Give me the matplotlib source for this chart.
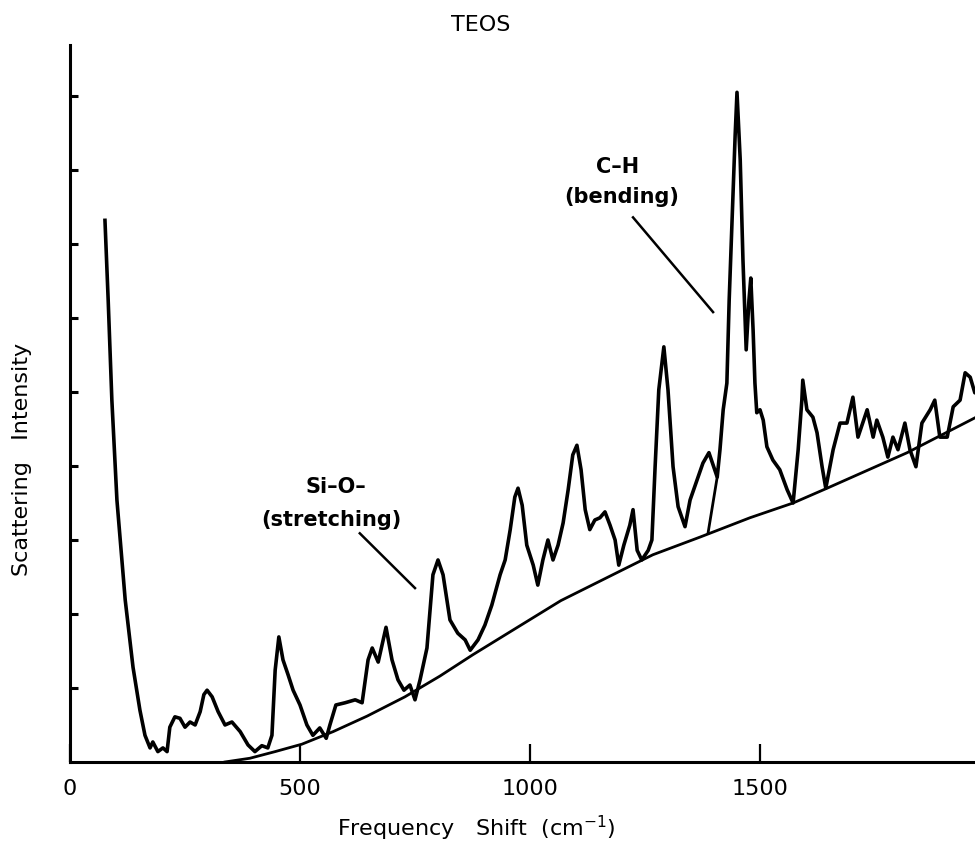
import matplotlib
matplotlib.use("Agg")
from matplotlib import pyplot as plt

# Raman spectrum of TEOS (x: cm-1, y: arbitrary units)
shift = [76, 83, 91, 102, 120, 137, 152, 163, 174, 180, 191, 202, 211, 217, 228,
         239, 250, 261, 272, 283, 291, 298, 309, 322, 337, 352, 370, 387, 402, 417,
         430, 439, 446, 454, 463, 474, 485, 500, 515, 528, 543, 557, 565, 578, 598,
         620, 635, 648, 657, 670, 687, 700, 713, 726, 739, 750, 761, 776, 789, 800,
         811, 826, 843, 859, 870, 887, 902, 917, 935, 946, 957, 967, 974, 983, 993,
         1007, 1017, 1028, 1039, 1050, 1061, 1072, 1083, 1093, 1102, 1111, 1120, 1130, 1141, 1152,
         1163, 1174, 1185, 1193, 1204, 1217, 1224, 1233, 1243, 1257, 1265, 1272, 1280, 1291, 1300,
         1311, 1322, 1337, 1348, 1363, 1376, 1389, 1407, 1413, 1420, 1428, 1433, 1437, 1441, 1446,
         1450, 1457, 1463, 1470, 1476, 1480, 1485, 1489, 1493, 1500, 1507, 1515, 1528, 1543, 1559,
         1572, 1583, 1591, 1593, 1602, 1615, 1624, 1635, 1643, 1659, 1674, 1689, 1702, 1713, 1733,
         1746, 1754, 1767, 1778, 1789, 1800, 1815, 1826, 1839, 1852, 1870, 1880, 1891, 1907, 1920,
         1935, 1946, 1957, 1967, 1989]
intensity = [7.32, 6.24, 4.89, 3.54, 2.19, 1.28, 0.70, 0.36, 0.19, 0.27, 0.14, 0.19, 0.14, 0.47, 0.61,
             0.59, 0.47, 0.54, 0.50, 0.68, 0.91, 0.97, 0.88, 0.68, 0.50, 0.54, 0.41, 0.23, 0.14, 0.22,
             0.19, 0.36, 1.24, 1.69, 1.38, 1.18, 0.97, 0.77, 0.50, 0.36, 0.46, 0.32, 0.50, 0.77, 0.80,
             0.84, 0.80, 1.38, 1.54, 1.35, 1.82, 1.38, 1.11, 0.97, 1.04, 0.84, 1.11, 1.54, 2.53, 2.73,
             2.53, 1.92, 1.74, 1.65, 1.51, 1.65, 1.85, 2.12, 2.53, 2.73, 3.14, 3.58, 3.70, 3.47, 2.93,
             2.66, 2.39, 2.73, 3.00, 2.73, 2.93, 3.23, 3.68, 4.15, 4.28, 3.95, 3.41, 3.14, 3.27, 3.30,
             3.38, 3.20, 3.00, 2.66, 2.93, 3.20, 3.41, 2.86, 2.73, 2.86, 3.00, 3.99, 5.03, 5.61, 5.03,
             3.99, 3.45, 3.18, 3.54, 3.81, 4.04, 4.18, 3.85, 4.22, 4.76, 5.12, 6.24, 6.92, 7.59, 8.47,
             9.05, 8.14, 6.78, 5.57, 6.24, 6.54, 5.84, 5.12, 4.72, 4.76, 4.62, 4.26, 4.08, 3.95, 3.68,
             3.50, 4.22, 4.89, 5.16, 4.76, 4.66, 4.45, 3.99, 3.70, 4.22, 4.58, 4.58, 4.93, 4.39, 4.76,
             4.39, 4.62, 4.39, 4.12, 4.39, 4.22, 4.58, 4.22, 3.99, 4.58, 4.76, 4.89, 4.39, 4.39, 4.80,
             4.89, 5.26, 5.20, 4.99, 4.96]

# left flank of the C-H band drawn down to the background
flank_shift = [1387, 1407]
flank_int = [3.09, 3.85]

# background curve under the bands
bg_shift = [337, 391, 446, 504, 572, 646, 728, 804, 876, 978, 1067, 1196, 1267, 1370, 1478,
            1572, 1646, 1820, 1967, 2000]
bg_int = [0.00, 0.05, 0.14, 0.24, 0.41, 0.62, 0.88, 1.16, 1.45, 1.84, 2.18, 2.58, 2.80, 3.04, 3.30,
          3.50, 3.70, 4.18, 4.65, 4.76]

x_ticks = [0, 500, 1000, 1500]
y_ticks = [1, 2, 3, 4, 5, 6, 7, 8, 9]

fig = plt.figure(figsize=(9.75, 8.47), dpi=100)
ax = fig.add_axes([0.0718, 0.1004, 0.928, 0.8465])

ax.plot(shift, intensity, color='black', lw=2.6, solid_joinstyle='round')
ax.plot(flank_shift, flank_int, color='black', lw=2.0)
ax.plot(bg_shift, bg_int, color='black', lw=2.0)

ax.set_xlim(0, 1967)
ax.set_ylim(0, 9.69)
for s in ['top', 'right']:
    ax.spines[s].set_visible(False)
for s in ['left', 'bottom']:
    ax.spines[s].set_linewidth(2.2)

ax.set_xticks(x_ticks)
ax.set_xticklabels([str(t) for t in x_ticks], fontsize=16)
ax.tick_params(axis='x', direction='in', length=13, width=1.6, pad=12)
ax.set_yticks(y_ticks)
ax.set_yticklabels([])
ax.tick_params(axis='y', direction='in', length=6, width=2.2)

fig.text(0.493, 0.971, 'TEOS', ha='center', va='center', fontsize=16)
fig.text(0.488, 0.022, 'Frequency   Shift  (cm$^{-1}$)', ha='center', va='center', fontsize=16)
fig.text(0.023, 0.457, 'Scattering   Intensity', ha='center', va='center', rotation=90, fontsize=16)

# band labels
ax.text(1191, 8.04, 'C–H', ha='center', va='center', fontsize=15, fontweight='bold')
ax.text(1200, 7.63, '(bending)', ha='center', va='center', fontsize=15, fontweight='bold')
ax.plot([1224, 1398], [7.36, 6.08], color='black', lw=1.8)

ax.text(578, 3.72, 'Si–O–', ha='center', va='center', fontsize=15, fontweight='bold')
ax.text(568, 3.27, '(stretching)', ha='center', va='center', fontsize=15, fontweight='bold')
ax.plot([630, 750], [3.09, 2.35], color='black', lw=1.8)

plt.savefig('out.png', dpi=100)
